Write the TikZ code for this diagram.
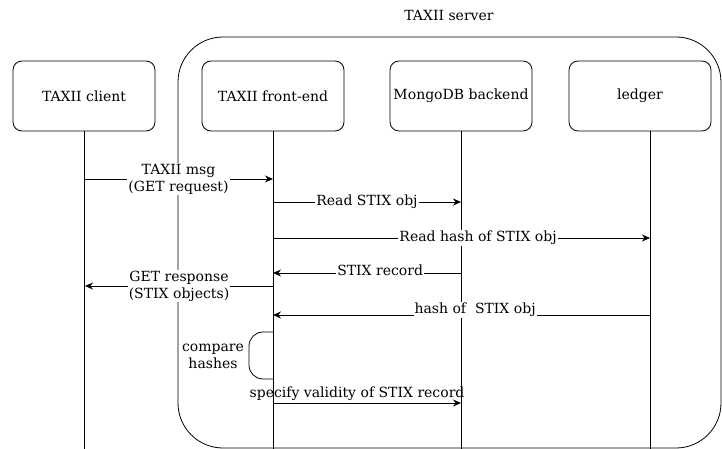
\documentclass[tikz,border=0pt]{standalone}
\usepackage{fontspec}
\setmainfont{DejaVu Serif}
\usepackage{tikz}
\usetikzlibrary{arrows.meta,positioning,calc}

\tikzset{
  actor/.style={draw,rounded corners=9pt,minimum width=142pt,minimum height=70pt,
    line width=0.8pt,font=\fontsize{14}{17}\selectfont},
  lifeline/.style={line width=0.8pt},
  msg/.style={line width=0.8pt,-{Stealth[length=8pt,width=7pt]}},
  msglabel/.style={fill=white,inner sep=1pt,align=center,font=\fontsize{14}{17}\selectfont},
}

\begin{document}
\begin{tikzpicture}[x=1pt,y=-1pt]
\useasboundingbox (0,0) rectangle (722,449);
% server container
\draw[line width=0.8pt,rounded corners=45pt] (178,37) rectangle (721,448);
\node[font=\fontsize{14}{17}\selectfont] (server) at (449,15) {TAXII server};
% participants
\node[actor] (client) at (84,96) {TAXII client};
\node[actor] (front) at (273,96) {TAXII front-end};
\node[actor] (mongo) at (461,96) {MongoDB backend};
\node[actor] (ledger) at (640,96) {ledger};
% lifelines
\coordinate (client-end) at (84,449);
\coordinate (front-end) at (273,449);
\coordinate (mongo-end) at (461,449);
\coordinate (ledger-end) at (650,449);
\draw[lifeline] (84,131) -- (client-end);
\draw[lifeline] (front.south) -- (front-end);
\draw[lifeline] (mongo.south) -- (mongo-end);
\draw[lifeline] (650,131) -- (ledger-end);
% message points
\coordinate (c1) at (84,179);  \coordinate (f1) at (273,179);
\coordinate (f2) at (273,202); \coordinate (m2) at (461,202);
\coordinate (f3) at (273,238); \coordinate (l3) at (650,238);
\coordinate (m4) at (461,273); \coordinate (f4) at (273,273);
\coordinate (f5) at (273,286); \coordinate (c5) at (85,286);
\coordinate (l6) at (650,315); \coordinate (f6) at (273,315);
\coordinate (f7) at (273,332); \coordinate (g7) at (273,379);
\coordinate (f8) at (273,403); \coordinate (m8) at (461,403);
% messages
\draw[msg] (c1) -- node[msglabel] (lbl1) {TAXII msg\\(GET request)} (f1);
\draw[msg] (f2) -- node[msglabel] (lbl2) {Read STIX obj} (m2);
\draw[msg] (f3) -- node[msglabel,pos=0.544] (lbl3) {Read hash of STIX obj} (l3);
\draw[msg] (m4) -- node[msglabel,pos=0.43,yshift=3pt] (lbl4) {STIX record} (f4);
\draw[msg] (f5) -- node[msglabel] (lbl5) {GET response\\(STIX objects)} (c5);
\draw[msg] (l6) -- node[msglabel,pos=0.464,yshift=5pt] (lbl6) {hash of~ STIX obj} (f6);
\draw[line width=0.8pt,rounded corners=14pt] (f7) -- (249,332) -- (249,379) -- (g7);
\node[msglabel,fill=none] (cmp) at (213,356) {compare\\hashes};
\draw[msg] (f8) -- node[msglabel,fill=none,above=1pt,pos=0.447] (lbl8) {specify validity of STIX record} (m8);
\end{tikzpicture}
\end{document}
